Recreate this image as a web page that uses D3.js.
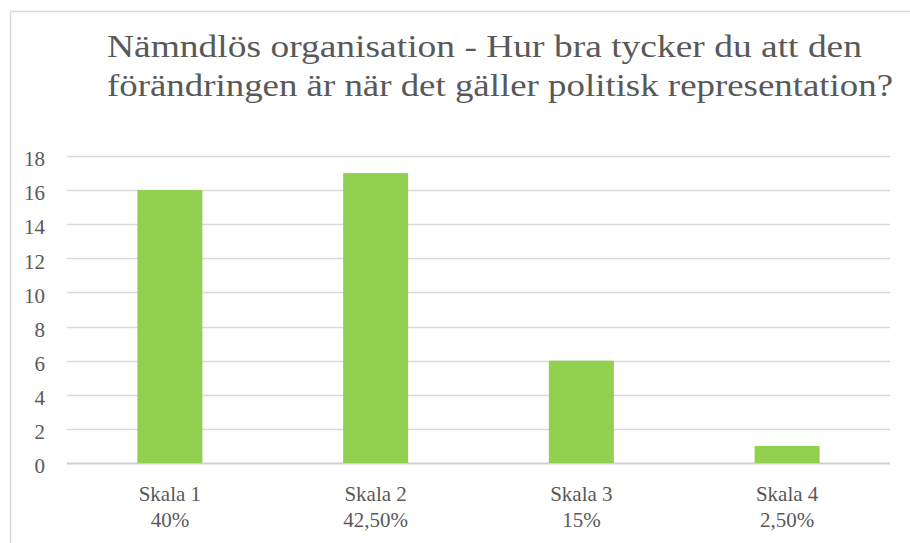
<!DOCTYPE html>
<html>
<head>
<meta charset="utf-8">
<script src="https://cdn.jsdelivr.net/npm/d3@7"></script>
<style>
    html, body { margin: 0; padding: 0; background: #fff; }
    svg { display: block; }
</style>
</head>
<body>
<div id="chart"></div>
<script>
const categories = ['Skala 1', 'Skala 2', 'Skala 3', 'Skala 4'];
const percentLabels = ['40%', '42,50%', '15%', '2,50%'];
const counts = [16, 17, 6, 1];
const yTicks = [0, 2, 4, 6, 8, 10, 12, 14, 16, 18];
const titleLines = [
    'Nämndlös organisation - Hur bra tycker du att den',
    'förändringen är när det gäller politisk representation?'
];

const WIDTH = 910;
const HEIGHT = 543;
const MARGIN = { top: 156, right: 20, bottom: 80, left: 67 };
const FONT = '"Liberation Serif", "DejaVu Serif", serif';
const TEXT_COLOR = '#595959';

const svg = d3.select('#chart').append('svg')
    .attr('width', WIDTH)
    .attr('height', HEIGHT);

// chart frame (cut off at right and bottom)
svg.append('path')
    .attr('d', `M10.5,${HEIGHT} V11.5 H${WIDTH}`)
    .attr('fill', 'none')
    .attr('stroke', '#d9d9d9')
    .attr('stroke-width', 1.5);

const x = d3.scaleBand()
    .domain(categories)
    .range([MARGIN.left, WIDTH - MARGIN.right])
    .paddingInner(0.684)
    .paddingOuter(0.342);

const y = d3.scaleLinear()
    .domain([0, 18])
    .range([463, MARGIN.top]);

// gridlines
svg.append('g')
    .selectAll('line')
    .data(yTicks)
    .join('line')
    .attr('x1', MARGIN.left)
    .attr('x2', WIDTH - MARGIN.right)
    .attr('y1', d => Math.round(y(d)) + 0.5)
    .attr('y2', d => Math.round(y(d)) + 0.5)
    .attr('stroke', d => d === 0 ? '#d0d0d0' : '#d9d9d9')
    .attr('stroke-width', d => d === 0 ? 2 : 1.5);

// y axis labels
const yAxis = svg.append('g')
    .attr('transform', `translate(${MARGIN.left - 22},3)`)
    .call(d3.axisLeft(y).tickValues(yTicks).tickSize(0).tickPadding(0));
yAxis.select('.domain').remove();
yAxis.attr('font-family', null).attr('font-size', null);
yAxis.selectAll('text')
    .style('font-family', FONT)
    .style('font-size', '21px')
    .attr('fill', TEXT_COLOR);

// bars
svg.append('g')
    .selectAll('rect')
    .data(counts)
    .join('rect')
    .attr('x', (d, i) => x(categories[i]))
    .attr('width', x.bandwidth())
    .attr('y', d => y(d))
    .attr('height', d => y(0) - y(d))
    .attr('fill', '#92d050');

// category labels
const xLabels = svg.append('g')
    .selectAll('text')
    .data(categories)
    .join('text')
    .attr('x', d => x(d) + x.bandwidth() / 2)
    .attr('y', 501)
    .attr('text-anchor', 'middle')
    .style('font-family', FONT)
    .style('font-size', '21px')
    .attr('fill', TEXT_COLOR);
xLabels.append('tspan')
    .attr('x', d => x(d) + x.bandwidth() / 2)
    .text(d => d);
xLabels.append('tspan')
    .attr('x', d => x(d) + x.bandwidth() / 2)
    .attr('dy', 26)
    .text((d, i) => percentLabels[i]);

// title, stretched to the width of the original wrapped lines
const titleWidths = [755, 786];
svg.append('g')
    .selectAll('text')
    .data(titleLines)
    .join('text')
    .attr('x', 107)
    .attr('y', (d, i) => 57 + i * 39)
    .attr('textLength', (d, i) => titleWidths[i])
    .attr('lengthAdjust', 'spacingAndGlyphs')
    .style('font-family', FONT)
    .style('font-size', '31px')
    .attr('fill', TEXT_COLOR)
    .text(d => d);
</script>
</body>
</html>
